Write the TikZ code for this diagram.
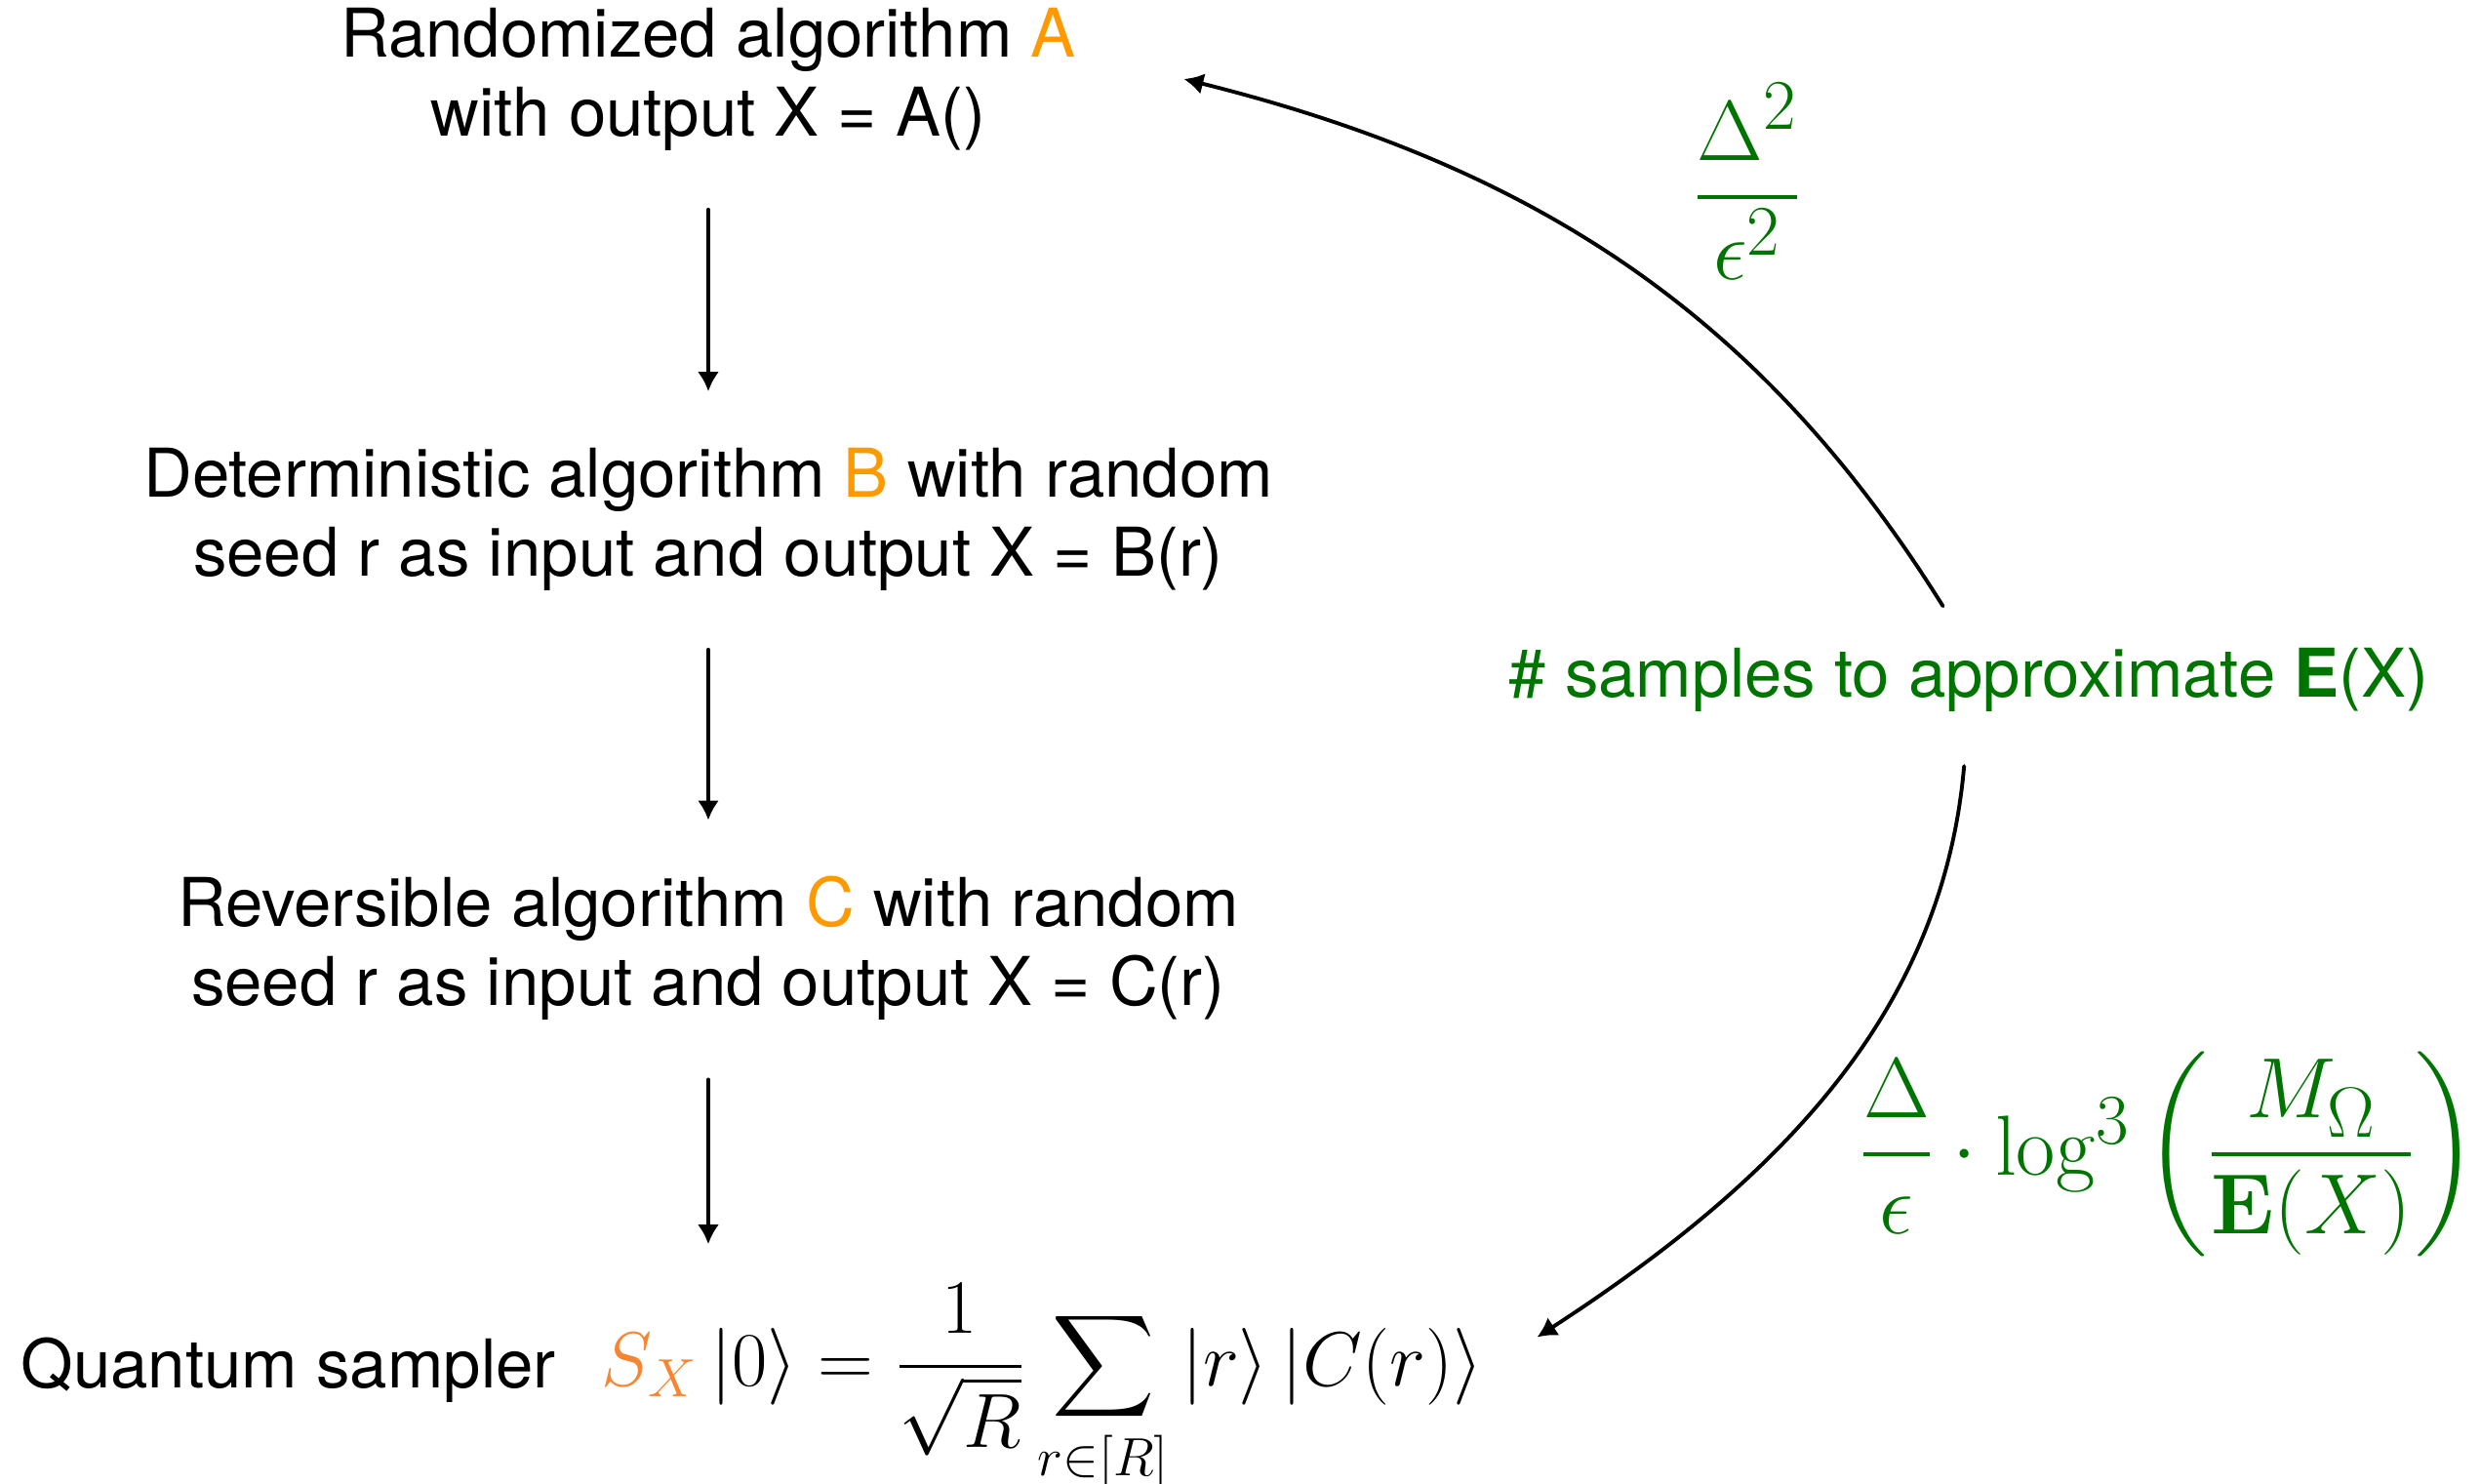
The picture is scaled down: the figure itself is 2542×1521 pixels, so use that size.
\RequirePackage{fix-cm}
\documentclass[tikz,border=0pt]{standalone}
\usepackage{amsmath}
\usepackage[no-math]{fontspec}
\setmainfont{TeX Gyre Heros}
\usetikzlibrary{arrows.meta,positioning}
\definecolor{algorange}{RGB}{255,153,0}
\definecolor{samporange}{RGB}{247,133,50}
\definecolor{costgreen}{RGB}{0,116,0}

\begin{document}
\begin{tikzpicture}[
  x=0.01cm,y=-0.01cm,
  line cap=round,
  >={Latex[length=0.2cm,width=0.22cm]},
  alg/.style={align=center,inner sep=0pt,font=\fontsize{19.6}{23}\selectfont},
  flow/.style={draw=black,line width=1.1pt,->,shorten <=0.6cm,shorten >=0.57cm},
  cost/.style={text=costgreen,inner sep=0pt,font=\fontsize{24.88}{29}\selectfont},
  loopback/.style={draw=black,line width=1.1pt,->}
]
\useasboundingbox (0,0) rectangle (2542,1521);

% chain of algorithms
\node[alg] (algA) at (726,81)
  {Randomized algorithm \textcolor{algorange}{A}\\with output X = A()};
\node[alg] (algB) at (726,532)
  {Deterministic algorithm \textcolor{algorange}{B} with random\\seed r as input and output X = B(r)};
\node[alg] (algC) at (726,972)
  {Reversible algorithm \textcolor{algorange}{C} with random\\seed r as input and output X = C(r)};

% quantum sampler
\node[alg,anchor=base west] (sampler) at (21,1422) {Quantum sampler};
\node[anchor=base west,inner sep=0pt,font=\fontsize{22.4}{27}\selectfont] (state) at (616,1420)
  {$\textcolor{samporange}{S_X}\,|0\rangle=\dfrac{1}{\sqrt{R}}\displaystyle\sum_{r\in[R]}|r\rangle\,|C(r)\rangle$};

\draw[flow] (algA) -- (algB);
\draw[flow] (algB) -- (algC);
\draw[flow,shorten >=0.4cm] (algC.south) -- (algC.south |- state.north);

% number of samples
\node[alg,text=costgreen] (samples) at (2018,697) {\# samples to approximate \textbf{E}(X)};
\node[cost] (classical) at (1791,186) {$\dfrac{\Delta^2}{\epsilon^2}$};
\node[cost] (quantum) at (2223,1183)
  {$\dfrac{\Delta}{\epsilon}\cdot\log^3\left(\dfrac{M_\Omega}{\mathbf{E}(X)}\right)$};

\draw[loopback,shorten <=0.5cm] (samples.north) to[out=122,in=-14] ([xshift=1.1cm]algA.east);
\draw[loopback,shorten <=0.55cm] (samples.south) to[out=-95,in=33] ([xshift=0.55cm,yshift=0.54cm]state.east);

\end{tikzpicture}
\end{document}
